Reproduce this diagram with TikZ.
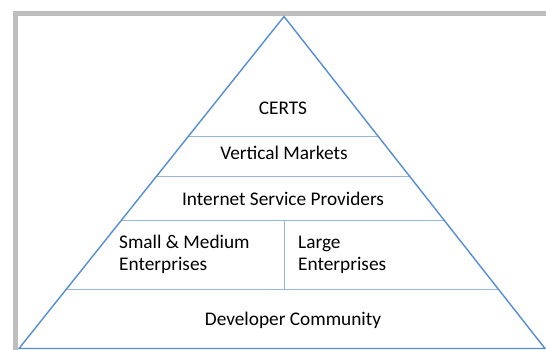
\documentclass[tikz,border=0pt]{standalone}
\usepackage{fontspec}
\setmainfont{Carlito}
\usetikzlibrary{calc}
\definecolor{edgeblue}{RGB}{84,141,212}
\definecolor{tierblue}{RGB}{150,182,222}
\definecolor{framegray}{RGB}{190,190,190}

\begin{document}
\begin{tikzpicture}[x=1pt,y=-1pt,font=\fontsize{19.3}{22}\selectfont,
  tier/.style={tierblue,line width=1pt},
  label/.style={inner sep=0pt,anchor=base}]
\useasboundingbox (0,0) rectangle (546,350);
\draw[framegray,line width=5pt,line join=miter] (15.5,352)--(15.5,14)--(548,14);
\coordinate (T) at (284,16.5); \coordinate (L) at (19,348.5); \coordinate (R) at (545,348.5);
% tier boundaries on both sides
\coordinate (a1) at ($(T)!0.3604!(L)$); \coordinate (b1) at ($(T)!0.3604!(R)$);
\coordinate (a2) at ($(T)!0.4805!(L)$); \coordinate (b2) at ($(T)!0.4805!(R)$);
\coordinate (a3) at ($(T)!0.6156!(L)$); \coordinate (b3) at ($(T)!0.6156!(R)$);
\coordinate (a4) at ($(T)!0.8228!(L)$); \coordinate (b4) at ($(T)!0.8228!(R)$);
\draw[tier] (a1)--(b1); \draw[tier] (a2)--(b2); \draw[tier] (a3)--(b3); \draw[tier] (a4)--(b4);
\draw[tier] (284,221)--(284,290);
\draw[edgeblue,line width=1.4pt] (L)--(T)--(R)--cycle;
\node[label] (certs) at (283,115) {CERTS};
\node[label] (vert) at (284,160) {Vertical Markets};
\node[label] (isp) at (283,205) {Internet Service Providers};
% base of a two-line node is its last line
\node[label,anchor=base west,align=left] (sme) at (119,270) {Small \& Medium\\Enterprises};
\node[label,anchor=base west,align=left] (large) at (298,270) {Large\\Enterprises};
\node[label] (dev) at (293,325) {Developer Community};
\end{tikzpicture}
\end{document}
